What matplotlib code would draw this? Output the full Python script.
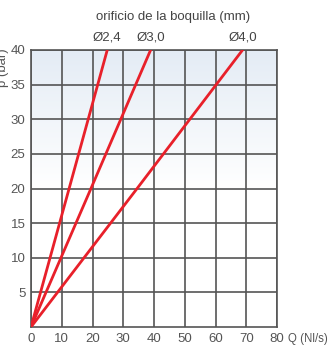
import numpy as np
import matplotlib.pyplot as plt

plt.rcParams['font.family'] = ['Liberation Sans', 'DejaVu Sans']

# nozzle orifice lines: flow Q (Nl/s) vs pressure p (bar)
labels = ['Ø2,4', 'Ø3,0', 'Ø4,0']
q_pts = [[0, 12.4, 24.8],
         [0, 19.5, 38.9],
         [0, 34.5, 68.8]]
p_pts = [[0, 20, 40],
         [0, 20, 40],
         [0, 20, 40]]

xticks = [0, 10, 20, 30, 40, 50, 60, 70, 80]
yticks = [5, 10, 15, 20, 25, 30, 35, 40]

fig = plt.figure(figsize=(3.34, 3.47), dpi=100)
ax = fig.add_axes([31/334, 20/347, 246/334, 277/347])

# light blue fade at the top of the plot
grad = np.linspace(0, 1, 256).reshape(-1, 1)
cmap = plt.matplotlib.colors.LinearSegmentedColormap.from_list('bg', ['#ffffff', '#ffffff', '#e4ecf5'])
ax.imshow(grad, extent=[0, 80, 0, 40], origin='lower', aspect='auto', cmap=cmap, zorder=0)

gc = '#555555'
for x in xticks:
    ax.axvline(x, color=gc, lw=1.2, zorder=1)
for y in yticks:
    ax.axhline(y, color=gc, lw=1.2, zorder=1)

for q, p, lab in zip(q_pts, p_pts, labels):
    ax.plot(q, p, color='#e8202a', lw=2.0, zorder=3, solid_capstyle='round')
    ax.text(q[-1], 40.9, lab, ha='center', va='bottom', fontsize=9.5, color='#444444')

ax.set_xlim(0, 80)
ax.set_ylim(0, 40)
ax.set_xticks(xticks)
ax.set_yticks(yticks)
ax.tick_params(length=0, labelsize=9.5, labelcolor='#555555', pad=4)
for s in ax.spines.values():
    s.set_color(gc)
    s.set_linewidth(1.2)

ax.text(83.6, -0.9, 'Q (Nl/s)', ha='left', va='top', fontsize=8.3, color='#555555')
fig.text(173/334, 1 - 17/347, 'orificio de la boquilla (mm)', ha='center', va='center',
         fontsize=9.5, color='#444444')
fig.text(-3/334, 1 - 68/347, 'p (bar)', rotation=90, ha='left', va='center',
         fontsize=9.5, color='#555555')

fig.savefig('out.png', dpi=100)
